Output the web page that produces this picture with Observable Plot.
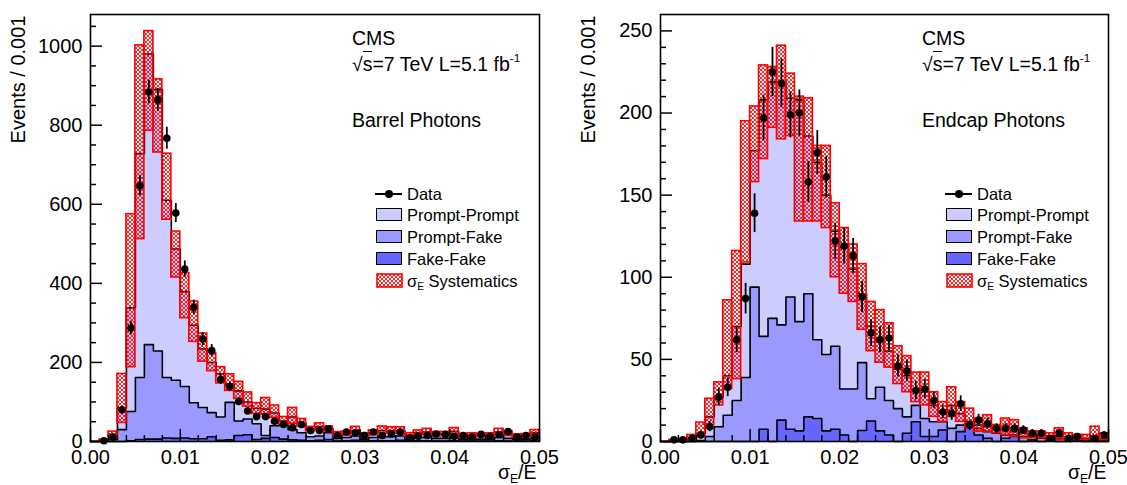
<!DOCTYPE html>
<html><head><meta charset="utf-8">
<script src="https://cdn.jsdelivr.net/npm/d3@7"></script>
<script src="https://cdn.jsdelivr.net/npm/@observablehq/plot@0.6"></script>
<style>
body{margin:0;background:#fff;font-family:"Liberation Sans",Arial,sans-serif;}
#wrap{position:relative;width:1127px;height:485px;overflow:hidden;}
.panel{position:absolute;top:0;}
.ann{position:absolute;font-size:19.5px;color:#000;white-space:nowrap;line-height:1;}
.leg{position:absolute;font-size:16.5px;color:#000;white-space:nowrap;line-height:1;}
.sw{position:absolute;width:24px;height:11px;border:1.5px solid #000;}
sup{font-size:0.6em;vertical-align:0.75em;line-height:0;}
sub{font-size:0.62em;vertical-align:-0.3em;line-height:0;}
</style>
</head><body>
<svg width="0" height="0" style="position:absolute"><defs>
<pattern id="hatch" patternUnits="userSpaceOnUse" width="4" height="4">
<path d="M-1,1 L1,-1 M0,4 L4,0 M3,5 L5,3 M-1,3 L1,5 M0,0 L4,4 M3,-1 L5,1" stroke="#ff0000" stroke-width="0.85" fill="none"/>
</pattern></defs></svg>
<div id="wrap"></div>
<script>
// ---- binning: sigma_E/E from 0 to 0.05 in bins of 0.001
const binWidth = 0.001;
const nBins = 50;
const xMajor = [0, 0.01, 0.02, 0.03, 0.04, 0.05];
const xMinor = [0.002,0.004,0.006,0.008,0.012,0.014,0.016,0.018,0.022,0.024,0.026,0.028,0.032,0.034,0.036,0.038,0.042,0.044,0.046,0.048];

// ---- Barrel photons
const barrelData = [0,2,11,80,287,647,884,864,767,578,436,339,259,230,157,139,101,77,63,63,51,43,35,43,28,28,32,15,24,22,15,24,15,19,24,9,13,15,19,18,13,15,11,18,13,17,25,11,15,11];
const barrelErr  = [0,1.4,3.3,8.9,16.9,25.4,29.7,29.4,27.7,24,20.9,18.4,16.1,15.2,12.5,11.8,10,8.8,7.9,7.9,7.1,6.6,5.9,6.6,5.3,5.3,5.7,3.9,4.9,4.7,3.9,4.9,3.9,4.4,4.9,3,3.6,3.9,4.4,4.2,3.6,3.9,3.3,4.2,3.6,4.1,5,3.3,3.9,3.3];
const barrelTotal = [0,3,18,85,338,728,980,890,610,487,379,294,234,200,171,145,128,100,84,82,72,52,62,46,32,38,32,20,20,28,16,22,28,28,28,16,22,24,19,19,26,15,16,15,16,24,20,14,15,22];
const barrelSysUp = [0,5,25,171,575,1002,1038,916,728,531,426,354,273,224,188,170,151,124,97,110,91,62,85,57,37,46,38,24,25,37,21,28,38,36,36,21,28,32,24,24,34,19,21,19,21,32,26,18,19,29];
const barrelSysDown = [0,2,12,47,188,512,786,731,561,415,312,252,202,178,147,128,108,88,70,68,60,44,45,38,26,30,25,15,15,20,12,16,20,20,20,12,16,18,14,14,18,11,12,11,12,17,14,10,11,16];
const barrelPromptFake = [0,1,5,30,76,162,245,229,162,155,139,98,86,73,62,99,52,57,45,15,40,42,30,22,12,14,22,8,10,14,6,10,12,12,14,6,10,10,8,8,10,6,6,6,6,10,8,6,6,8];
const barrelFakeFake = [0,0,0,0,2,5,6,6,9,8,9,7,7,12,3,4,15,17,5,8,10,6,4,3,2,3,5,1,2,3,1,2,2,2,3,1,2,2,1,1,2,1,1,1,1,2,1,1,1,2];
const barrelYMajor = [0,200,400,600,800,1000];
const barrelYMinor = [50,100,150,250,300,350,450,500,550,650,700,750,850,900,950,1050];

// ---- Endcap photons
const endcapData = [0,1,1,2,4,9,27,33,62,87,139,197,225,218,199,200,158,176,161,122,119,113,88,66,62,63,46,43,31,32,25,18,17,23,10,13,11,8,8,8,7,5,5,2,5,2,3,0,2,4];
const endcapErr  = [0,1,1,1.4,2,3,5.2,5.7,7.9,9.3,11.8,14,15,14.8,14.1,14.1,12.6,13.3,12.7,11,10.9,10.6,9.4,8.1,7.9,7.9,6.8,6.6,5.6,5.7,5,4.2,4.1,4.8,3.2,3.6,3.3,2.8,2.8,2.8,2.6,2.2,2.2,1.4,2.2,1.4,1.7,0,1.4,2];
const endcapTotal = [0,0.5,1,2,5,15,27,40,70,108,177,208,219,219,209,208,186,170,150,128,118,105,90,70,62,55,44,40,32,30,22,18,22,17,12,10,9,8,7,6,5,4,4,3,3,2,2,2,2,2];
const endcapSysUp = [0,1,1.5,4,11.5,26,36,86,116,195,204,229,228,241,224,210,209,180,180,145,130,120,108,85,80,72,58,52,42,42,30,24,33,24,20,14,16,10,14,13,8,6,6,5,8,5,4,4,9,5];
const endcapSysDown = [0,0,0.5,1.5,3,10,22,32,38,109,158,172,191,184,186,134,134,134,130,100,90,85,68,55,48,45,35,30,24,22,15,12,15,12,8,6,6,5,4,3,2,2,2,1,1,1,1,1,1,1];
const endcapPromptFake = [0,0,0,0,0.6,3,9,16,25,39,94,64,75,71,88,73,90,62,53,58,32,32,48,26,33,25,20,15,22,14,12,12,8,10,12,8,6,5,4,4,3,3,2,2,2,2,2,1,1,1];
const endcapFakeFake = [0,0,0,0,0,0,0,0,0,0,0,7.5,0,13,7.5,6.5,15,14,6.5,7.5,4,0,6.7,12.5,6.5,4,0,5,12,3,3,7,0,6,10,4,2,0,2,3,0,1,0,1,0,0,1,0,0,0];
const endcapYMajor = [0,50,100,150,200,250];
const endcapYMinor = [10,20,30,40,60,70,80,90,110,120,130,140,160,170,180,190,210,220,230,240];

const colPP = "#ccccff", colPF = "#9999ff", colFF = "#6666ff";

function panel(o) {
  const H = 485;
  const innerW = o.width - o.ml - o.mr, innerH = H - o.mt - o.mb;
  const bins = d3.range(nBins).map(i => ({i, lo: i*binWidth, hi: (i+1)*binWidth, c: (i+0.5)*binWidth}));
  const steps = v => bins.map(b => ({x: b.lo, y: v[b.i]})).concat([{x: nBins*binWidth, y: v[nBins-1]}]);
  const pts = bins.filter(b => o.data[b.i] > 0);
  const stepOpts = {x: "x", y: "y", curve: "step-after"};
  const lineOpts = {...stepOpts, stroke: "#000", strokeWidth: 1.6};
  return Plot.plot({
    width: o.width, height: H,
    marginLeft: o.ml, marginRight: o.mr, marginTop: o.mt, marginBottom: o.mb,
    style: {fontFamily: "Liberation Sans, Arial, sans-serif", fontSize: "20px", color: "#000", background: "#fff"},
    x: {domain: [0, nBins*binWidth]},
    y: {domain: [0, o.yMax]},
    marks: [
      Plot.areaY(steps(o.total), {...stepOpts, fill: colPP}),
      Plot.lineY(steps(o.total), lineOpts),
      Plot.areaY(steps(o.pf), {...stepOpts, fill: colPF}),
      Plot.lineY(steps(o.pf), lineOpts),
      Plot.areaY(steps(o.ff), {...stepOpts, fill: colFF}),
      Plot.lineY(steps(o.ff), lineOpts),
      Plot.rect(bins, {x1: "lo", x2: "hi", y1: b => o.down[b.i], y2: b => o.up[b.i], fill: "url(#hatch)", stroke: "#ff0000", strokeWidth: 1.6}),
      Plot.ruleX(pts, {x: "c", y1: b => o.data[b.i] - o.err[b.i], y2: b => o.data[b.i] + o.err[b.i], stroke: "#000", strokeWidth: 1.8}),
      Plot.dot(pts, {x: "c", y: b => o.data[b.i], r: 3.8, fill: "#000", stroke: "none"}),
      Plot.tickY(o.yMajor, {y: d => d, insetRight: innerW - 12, stroke: "#000", strokeWidth: 1.5}),
      Plot.tickY(o.yMinor, {y: d => d, insetRight: innerW - 6, stroke: "#000", strokeWidth: 1.5}),
      Plot.tickX(xMajor, {x: d => d, insetTop: innerH - 12, stroke: "#000", strokeWidth: 1.5}),
      Plot.tickX(xMinor, {x: d => d, insetTop: innerH - 6, stroke: "#000", strokeWidth: 1.5}),
      Plot.frame({stroke: "#000", strokeWidth: 1.6}),
      Plot.axisY({ticks: o.yMajor, tickSize: 0, tickPadding: 8, tickFormat: d3.format("d"), label: null}),
      Plot.axisX({ticks: xMajor, tickSize: 0, tickPadding: 8, tickFormat: d3.format(".2f"), label: null}),
      Plot.text(["Events / 0.001"], {frameAnchor: "top-left", rotate: -90, textAnchor: "end", lineAnchor: "middle", dx: -72, dy: 1, fontSize: 20})
    ]
  });
}

const wrap = document.getElementById("wrap");
const p1 = panel({width: 563, ml: 90, mr: 24, mt: 14, mb: 44, yMax: 1080, data: barrelData, err: barrelErr, total: barrelTotal, up: barrelSysUp, down: barrelSysDown, pf: barrelPromptFake, ff: barrelFakeFake, yMajor: barrelYMajor, yMinor: barrelYMinor});
p1.classList.add("panel"); p1.style.left = "0px";
wrap.appendChild(p1);
const p2 = panel({width: 564, ml: 97, mr: 19, mt: 14, mb: 44, yMax: 260, data: endcapData, err: endcapErr, total: endcapTotal, up: endcapSysUp, down: endcapSysDown, pf: endcapPromptFake, ff: endcapFakeFake, yMajor: endcapYMajor, yMinor: endcapYMinor});
p2.classList.add("panel"); p2.style.left = "563px";
wrap.appendChild(p2);

function addHTML(html) { wrap.insertAdjacentHTML("beforeend", html); }
const regions = [{x: 0, name: "Barrel Photons"}, {x: 570, name: "Endcap Photons"}];
const legendItems = ["Prompt-Prompt", "Prompt-Fake", "Fake-Fake"];
const legendColors = [colPP, colPF, colFF];
for (const r of regions) {
  addHTML(`<div class="ann" style="left:${352+r.x}px;top:29px">CMS</div>`);
  addHTML(`<div class="ann" style="left:${352+r.x}px;top:55px">√<span style="border-top:1.3px solid #000;padding-top:1px">s</span>=7 TeV L=5.1 fb<sup>-1</sup></div>`);
  addHTML(`<div class="ann" style="left:${352+r.x}px;top:111px">${r.name}</div>`);
  // legend: data
  addHTML(`<div style="position:absolute;left:${375+r.x}px;top:193px;width:27px;height:1.6px;background:#000"></div>`);
  addHTML(`<div style="position:absolute;left:${385+r.x}px;top:190px;width:7.6px;height:7.6px;border-radius:50%;background:#000"></div>`);
  addHTML(`<div class="leg" style="left:${407+r.x}px;top:186px">Data</div>`);
  legendItems.forEach((name, k) => {
    const y = 215 + 22*k;
    addHTML(`<div class="sw" style="left:${376+r.x}px;top:${y-7}px;background:${legendColors[k]}"></div>`);
    addHTML(`<div class="leg" style="left:${407+r.x}px;top:${y-8}px">${name}</div>`);
  });
  addHTML(`<svg style="position:absolute;left:${376+r.x}px;top:273px" width="28" height="16"><rect x="1" y="1" width="25" height="13" fill="url(#hatch)" stroke="#ff0000" stroke-width="1.6"/></svg>`);
  addHTML(`<div class="leg" style="left:${407+r.x}px;top:273px">σ<sub>E</sub> Systematics</div>`);
  addHTML(`<div class="ann" style="left:${498+r.x}px;top:463px">σ<sub>E</sub>/E</div>`);
}
</script>
</body></html>
